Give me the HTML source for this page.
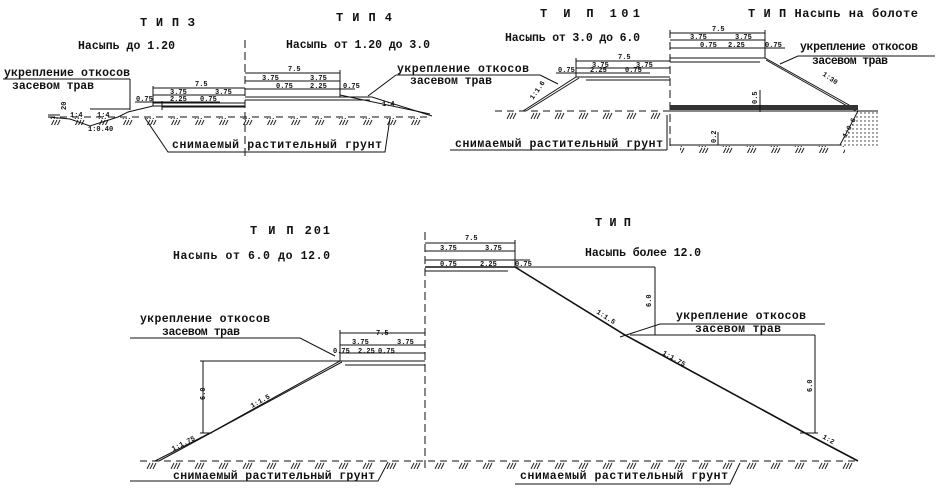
<!DOCTYPE html>
<html><head><meta charset="utf-8"><style>
html,body{margin:0;padding:0;background:#fff;}
svg{display:block;}
text{font-family:"Liberation Mono","DejaVu Sans Mono",monospace;font-weight:bold;fill:#111;}
.s{font-size:7px;}
.m{font-size:11.5px;}
.h{font-size:12px;}
</style></head><body>
<svg width="941" height="498" viewBox="0 0 941 498" xmlns="http://www.w3.org/2000/svg">
<defs>
<pattern id="hat" width="24" height="7" patternUnits="userSpaceOnUse">
<path d="M3 7L6 1M6 7L9 1M9 7L12 1" stroke="#111" stroke-width="0.9"/>
</pattern>
<pattern id="dots" width="4" height="4" patternUnits="userSpaceOnUse">
<circle cx="1" cy="1" r="0.7" fill="#222"/>
</pattern>
</defs>
<g fill="none" stroke="#111" stroke-width="1">

<line x1="245" y1="40" x2="245" y2="158" stroke-dasharray="8,4"/>
<line x1="48" y1="117" x2="432" y2="117" stroke-dasharray="7,5"/>
<rect x="48" y="118" width="384" height="7" fill="url(#hat)" stroke="none"/>
<polyline points="48,117 70,119 90,126 118,117 128,112 153,106 245,106"/>
<polyline points="48,115 60,115"/>
<line x1="153" y1="103" x2="245" y2="103"/>
<line x1="162" y1="107" x2="245" y2="107"/>
<line x1="162" y1="101" x2="162" y2="110"/>
<line x1="153" y1="88" x2="245" y2="88"/><line x1="153" y1="86" x2="153" y2="106"/>
<line x1="153" y1="95" x2="245" y2="95"/>
<line x1="135" y1="102" x2="220" y2="102"/>
<line x1="90" y1="109" x2="130" y2="109"/>
<line x1="3" y1="79" x2="130" y2="79"/><line x1="130" y1="79" x2="130" y2="110"/>
<polyline points="245,97 340,97 372,97 432,116"/>
<line x1="245" y1="100" x2="370" y2="100"/>
<line x1="340" y1="95" x2="430" y2="114"/>
<line x1="245" y1="73" x2="340" y2="73"/><line x1="340" y1="70" x2="340" y2="97"/>
<line x1="245" y1="81" x2="340" y2="81"/>
<line x1="245" y1="89" x2="355" y2="89"/>
<line x1="368" y1="96" x2="396" y2="75"/>
<line x1="396" y1="75" x2="540" y2="75"/>
<line x1="540" y1="75" x2="558" y2="84"/>
<polyline points="145,118 168,152 385,152 390,118"/>

<line x1="495" y1="111" x2="670" y2="111" stroke-dasharray="7,5"/>
<rect x="495" y="112" width="175" height="7" fill="url(#hat)" stroke="none"/>
<polyline points="523,111 576,77 670,77"/>
<line x1="526" y1="111" x2="579" y2="78"/>
<line x1="586" y1="80" x2="670" y2="80"/>
<line x1="576" y1="61" x2="670" y2="61"/><line x1="576" y1="58" x2="576" y2="77"/>
<line x1="576" y1="68" x2="670" y2="68"/>
<line x1="556" y1="73" x2="650" y2="73"/>
<line x1="670" y1="30" x2="670" y2="150" stroke-dasharray="8,4"/>
<polyline points="670,58 765,58 858,110"/>
<line x1="766" y1="60" x2="856" y2="111"/>
<line x1="670" y1="62" x2="760" y2="62"/>
<line x1="670" y1="33" x2="765" y2="33"/><line x1="765" y1="30" x2="765" y2="58"/>
<line x1="670" y1="40" x2="765" y2="40"/>
<line x1="670" y1="48" x2="785" y2="48"/>
<rect x="670" y="105" width="188" height="5" fill="#333" stroke="none"/>
<line x1="670" y1="111" x2="878" y2="111"/>
<polyline points="670,145 840,145 858,111"/>
<polygon points="840,145 858,111 878,111 878,148 840,148" fill="url(#dots)" stroke="none"/>
<rect x="680" y="146" width="165" height="7" fill="url(#hat)" stroke="none"/>
<line x1="760" y1="90" x2="760" y2="112"/>
<line x1="718" y1="132" x2="718" y2="145"/>
<polyline points="780,64 798,56 935,56"/>
<line x1="667" y1="115" x2="667" y2="150"/>
<line x1="450" y1="150" x2="667" y2="150"/>

<line x1="425" y1="232" x2="425" y2="470" stroke-dasharray="8,4"/>
<line x1="140" y1="461" x2="860" y2="461" stroke-dasharray="7,5"/>
<rect x="140" y="462" width="715" height="7" fill="url(#hat)" stroke="none"/>
<polyline points="155,461 210,433 340,361 425,361"/>
<line x1="159" y1="461" x2="342" y2="362"/>
<line x1="345" y1="365" x2="425" y2="365"/>
<line x1="340" y1="333" x2="425" y2="333"/><line x1="340" y1="330" x2="340" y2="361"/>
<line x1="340" y1="345" x2="425" y2="345"/>
<line x1="340" y1="353" x2="425" y2="353"/>
<line x1="200" y1="361" x2="340" y2="361"/>
<line x1="203" y1="361" x2="203" y2="433"/>
<line x1="200" y1="433" x2="212" y2="433"/>
<polyline points="130,338 300,338 335,356"/>
<polyline points="130,481 378,481 388,462"/>
<polyline points="425,267 515,267 625,335 805,433 858,461" stroke-width="1.6"/>
<line x1="425" y1="271" x2="508" y2="271"/>
<line x1="425" y1="243" x2="515" y2="243"/><line x1="515" y1="240" x2="515" y2="267"/>
<line x1="425" y1="251" x2="515" y2="251"/>
<line x1="425" y1="260" x2="530" y2="260"/>
<line x1="515" y1="267" x2="655" y2="267"/>
<line x1="655" y1="267" x2="655" y2="335"/>
<line x1="630" y1="335" x2="815" y2="335"/>
<line x1="815" y1="335" x2="815" y2="433"/>
<line x1="800" y1="433" x2="818" y2="433"/>
<polyline points="620,337 660,324 825,324"/>
<polyline points="515,484 730,484 740,463"/>
</g>

<text class="h" x="140" y="26" textLength="55">Т И П З</text>
<text class="h" x="336" y="21" textLength="56">Т И П  4</text>
<text class="m" x="78" y="49" textLength="97">Насыпь до 1.20</text>
<text class="m" x="286" y="48" textLength="144">Насыпь от 1.20 до 3.0</text>
<text class="m" x="4" y="76" textLength="126">укрепление откосов</text>
<text class="m" x="12" y="89" textLength="82">засевом трав</text>
<text class="m" x="397" y="72" textLength="132">укрепление откосов</text>
<text class="m" x="410" y="84" textLength="82">засевом трав</text>
<text class="s" x="195" y="86">7.5</text>
<text class="s" x="170" y="94">3.75</text>
<text class="s" x="215" y="94">3.75</text>
<text class="s" x="136" y="101">0.75</text>
<text class="s" x="170" y="101">2.25</text>
<text class="s" x="200" y="101">0.75</text>
<text class="s" x="288" y="71">7.5</text>
<text class="s" x="262" y="80">3.75</text>
<text class="s" x="310" y="80">3.75</text>
<text class="s" x="276" y="88">0.75</text>
<text class="s" x="310" y="88">2.25</text>
<text class="s" x="343" y="88">0.75</text>
<text class="s" x="382" y="106">1:4</text>
<text class="s" x="70" y="117">1:4</text>
<text class="s" x="97" y="117">1:4</text>
<text class="s" x="88" y="131">1:0.40</text>
<text class="s" transform="translate(66,110) rotate(-90)">20</text>
<text class="m" x="172" y="148" textLength="210">снимаемый растительный грунт</text>

<text class="h" x="540" y="17" textLength="100">Т И П   101</text>
<text class="h" x="748" y="17" textLength="170">Т И П  Насыпь на болоте</text>
<text class="m" x="505" y="41" textLength="135">Насыпь от 3.0 до 6.0</text>
<text class="s" x="618" y="59">7.5</text>
<text class="s" x="592" y="67">3.75</text>
<text class="s" x="636" y="67">3.75</text>
<text class="s" x="558" y="72">0.75</text>
<text class="s" x="590" y="72">2.25</text>
<text class="s" x="625" y="72">0.75</text>
<text class="s" transform="translate(533,100) rotate(-55)">1:1.6</text>
<text class="s" x="712" y="31">7.5</text>
<text class="s" x="690" y="39">3.75</text>
<text class="s" x="735" y="39">3.75</text>
<text class="s" x="700" y="47">0.75</text>
<text class="s" x="728" y="47">2.25</text>
<text class="s" x="765" y="47">0.75</text>
<text class="m" x="800" y="50" textLength="118">укрепление откосов</text>
<text class="m" x="812" y="64" textLength="76">засевом трав</text>
<text class="s" transform="translate(822,75) rotate(35)">1:30</text>
<text class="s" transform="translate(757,104) rotate(-90)">0.5</text>
<text class="s" transform="translate(716,143) rotate(-90)">0.2</text>
<text class="s" transform="translate(846,138) rotate(-62)">1:0.6</text>
<text class="m" x="455" y="147" textLength="208">снимаемый растительный грунт</text>

<text class="h" x="250" y="234" textLength="80">Т И П  201</text>
<text class="m" x="173" y="259" textLength="157">Насыпь  от 6.0 до 12.0</text>
<text class="h" x="595" y="226" textLength="36">Т И П</text>
<text class="m" x="585" y="256" textLength="116">Насыпь более 12.0</text>
<text class="m" x="140" y="322" textLength="130">укрепление откосов</text>
<text class="m" x="162" y="335" textLength="78">засевом трав</text>
<text class="s" x="376" y="335">7.5</text>
<text class="s" x="352" y="344">3.75</text>
<text class="s" x="397" y="344">3.75</text>
<text class="s" x="333" y="353">0.75</text>
<text class="s" x="358" y="353">2.25</text>
<text class="s" x="378" y="353">0.75</text>
<text class="s" transform="translate(205,400) rotate(-90)">6.0</text>
<text class="s" transform="translate(252,408) rotate(-29)">1:1.5</text>
<text class="s" transform="translate(173,451) rotate(-27)">1:1.75</text>
<text class="s" x="465" y="240">7.5</text>
<text class="s" x="440" y="250">3.75</text>
<text class="s" x="485" y="250">3.75</text>
<text class="s" x="440" y="266">0.75</text>
<text class="s" x="480" y="266">2.25</text>
<text class="s" x="515" y="266">0.75</text>
<text class="s" transform="translate(651,307) rotate(-90)">6.0</text>
<text class="s" transform="translate(596,313) rotate(33)">1:1.5</text>
<text class="s" transform="translate(662,354) rotate(30)">1:1.75</text>
<text class="s" transform="translate(812,392) rotate(-90)">6.0</text>
<text class="s" transform="translate(822,438) rotate(30)">1:2</text>
<text class="m" x="676" y="319" textLength="130">укрепление откосов</text>
<text class="m" x="695" y="332" textLength="86">засевом трав</text>
<text class="m" x="173" y="479" textLength="202">снимаемый растительный грунт</text>
<text class="m" x="520" y="479" textLength="208">снимаемый растительный грунт</text>
</svg>
</body></html>
